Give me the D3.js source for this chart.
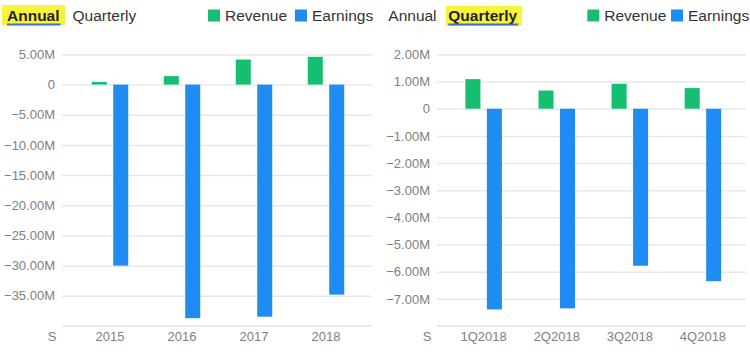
<!DOCTYPE html>
<html>
<head>
<meta charset="utf-8">
<script src="https://cdn.jsdelivr.net/npm/d3@7"></script>
<style>
  html, body { margin: 0; padding: 0; background: #fff; }
  svg { display: block; font-family: "Liberation Sans", Arial, sans-serif; }
</style>
</head>
<body>
<svg id="chart" width="750" height="357"></svg>
<script>
// ---- data (values in dollars) ----
const annualCategories = ["2015", "2016", "2017", "2018"];
const annualRevenue = [0.45e6, 1.4e6, 4.15e6, 4.6e6];
const annualEarnings = [-30.0e6, -38.7e6, -38.45e6, -34.8e6];
const annualTicks = [5e6, 0, -5e6, -10e6, -15e6, -20e6, -25e6, -30e6, -35e6];
const annualDomain = [-40e6, 5e6];

const quarterlyCategories = ["1Q2018", "2Q2018", "3Q2018", "4Q2018"];
const quarterlyRevenue = [1.09e6, 0.67e6, 0.92e6, 0.76e6];
const quarterlyEarnings = [-7.39e6, -7.35e6, -5.78e6, -6.35e6];
const quarterlyTicks = [2e6, 1e6, 0, -1e6, -2e6, -3e6, -4e6, -5e6, -6e6, -7e6];
const quarterlyDomain = [-8e6, 2e6];

const seriesNames = ["Revenue", "Earnings"];
const seriesColors = ["#16bf70", "#1e8cf3"];
const tabLabels = ["Annual", "Quarterly"];
const unitLabel = "S";

const svg = d3.select("#chart");
const fmt = v => v === 0 ? "0" : d3.format(".2f")(v / 1e6) + "M";

function panel(o) {
  const g = svg.append("g");
  const y = d3.scaleLinear().domain(o.domain).range([326, 54.4]);
  const x0 = d3.scaleBand().domain(o.categories).range(o.xRange).padding(0);
  const x1 = d3.scaleBand().domain(seriesNames).range([0, 36.5]).paddingInner(0.3);
  const off = (x0.bandwidth() - 36.5) / 2;

  // bottom baseline line
  g.append("line")
    .attr("x1", o.gridX[0]).attr("x2", o.gridX[1])
    .attr("y1", y(o.domain[0])).attr("y2", y(o.domain[0]))
    .attr("stroke", "#e3e3e3").attr("stroke-width", 1.5);

  // y axis with gridlines
  const ya = g.append("g").attr("transform", `translate(${o.gridX[0]},0)`)
    .call(d3.axisLeft(y).tickValues(o.ticks).tickFormat(fmt)
      .tickSizeInner(-(o.gridX[1] - o.gridX[0])).tickSizeOuter(0).tickPadding(7));
  ya.select(".domain").remove();
  ya.selectAll(".tick line").attr("stroke", "#e8e8e8").attr("stroke-width", 1.5);
  ya.selectAll(".tick text").attr("fill", "#808080").attr("font-size", 13)
    .attr("font-family", "Liberation Sans, Arial, sans-serif");

  // bars
  const rows = o.categories.map((c, i) => ({ c, vals: [o.revenue[i], o.earnings[i]] }));
  const grp = g.selectAll(".grp").data(rows).enter().append("g")
    .attr("transform", d => `translate(${x0(d.c) + off},0)`);
  grp.selectAll("rect").data(d => d.vals.map((v, k) => ({ v, k }))).enter().append("rect")
    .attr("x", d => x1(seriesNames[d.k]))
    .attr("width", x1.bandwidth())
    .attr("y", d => y(Math.max(0, d.v)))
    .attr("height", d => Math.abs(y(d.v) - y(0)))
    .attr("fill", d => seriesColors[d.k]);

  // x axis labels
  const xa = g.append("g").attr("transform", `translate(0,326)`)
    .call(d3.axisBottom(x0).tickSize(0).tickPadding(6));
  xa.select(".domain").remove();
  xa.selectAll(".tick text").attr("fill", "#808080").attr("font-size", 13)
    .attr("font-family", "Liberation Sans, Arial, sans-serif");
  g.append("text").attr("x", o.unitX).attr("y", 332).attr("dy", "0.71em")
    .attr("text-anchor", "middle").attr("fill", "#808080").attr("font-size", 13)
    .text(unitLabel);

  // header tabs
  const hx = o.tabX;
  g.append("rect").attr("x", o.hl[0]).attr("y", o.hl[1]).attr("width", o.hl[2]).attr("height", o.hl[3])
    .attr("fill", "#f8f43c");
  tabLabels.forEach((t, i) => {
    const active = i === o.active;
    const tx = g.append("text").attr("x", hx[i]).attr("y", 21)
      .attr("font-size", 15.5).attr("font-weight", active ? "bold" : "normal")
      .attr("fill", active ? "#222" : "#333").text(t);
    if (active) {
      const w = tx.node().getComputedTextLength();
      g.append("line").attr("x1", hx[i]).attr("x2", hx[i] + w + 1)
        .attr("y1", 24.5).attr("y2", 24.5).attr("stroke", "#3b72c0").attr("stroke-width", 2);
    }
  });

  // legend
  seriesNames.forEach((s, i) => {
    g.append("rect").attr("x", o.legX[i]).attr("y", 9.5).attr("width", 12).attr("height", 12)
      .attr("fill", seriesColors[i]);
    g.append("text").attr("x", o.legX[i] + 17).attr("y", 21).attr("font-size", 15.5)
      .attr("fill", "#333").text(s);
  });
}

panel({
  categories: annualCategories, revenue: annualRevenue, earnings: annualEarnings,
  ticks: annualTicks, domain: annualDomain,
  xRange: [74, 362], gridX: [62, 372], unitX: 52,
  tabX: [7, 72.5], active: 0, hl: [2, 5, 63, 20],
  legX: [208, 295]
});
panel({
  categories: quarterlyCategories, revenue: quarterlyRevenue, earnings: quarterlyEarnings,
  ticks: quarterlyTicks, domain: quarterlyDomain,
  xRange: [447.1, 739.5], gridX: [437, 746], unitX: 427,
  tabX: [388.3, 448.3], active: 1, hl: [446, 6, 76, 20],
  legX: [587.3, 671]
});
</script>
</body>
</html>
